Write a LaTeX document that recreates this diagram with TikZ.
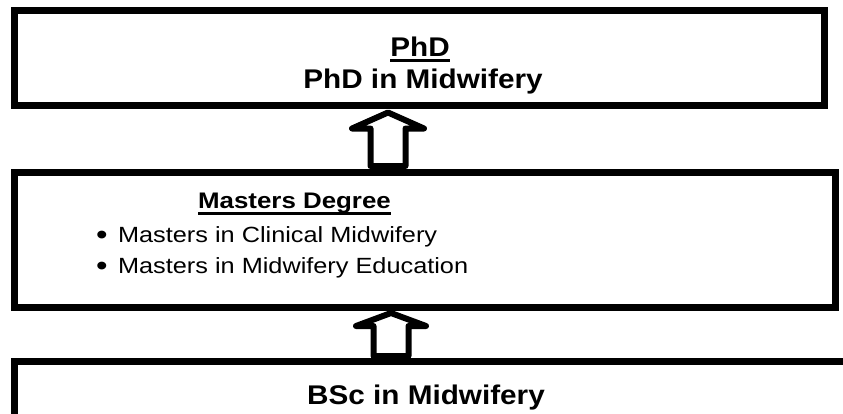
\documentclass[tikz,border=0pt]{standalone}
\usepackage{fontspec}
\setmainfont{Liberation Sans}
% thick underline drawn beneath a word group
\newcommand\ulined[1]{\setbox0\hbox{#1}\rlap{\vrule height -3pt depth 6pt width \wd0}\box0}
% slightly widened lettering
\newcommand\wider[1]{\scalebox{1.15}[1]{#1}}
\newcommand\headwide[1]{\scalebox{1.1}[1]{#1}}
% enlarged bullet followed by a fixed gap
\newcommand\itemdot{\raisebox{-2.4pt}{\scalebox{1.3}{•}}\hskip 9pt}
\tikzset{
  frame/.style={draw=black, line width=7pt, inner sep=0pt, outer sep=0pt},
  hollowup/.style={draw=black, fill=white, line width=6pt, line join=round},
  headtext/.style={inner sep=0pt, font=\fontsize{27}{31}\selectfont\bfseries},
  subhead/.style={inner sep=0pt, font=\fontsize{22.5}{26}\selectfont\bfseries},
  itemtext/.style={inner sep=0pt, anchor=base west, font=\fontsize{22}{26}\selectfont},
}
\begin{document}
\begin{tikzpicture}[x=1pt,y=-1pt]
\useasboundingbox (0,0) rectangle (843,413);
\clip (0,0) rectangle (843,413);

% the three levels
\node[frame, minimum width=810pt, minimum height=95pt] (phd) at (419.5,58) {};
\node[frame, minimum width=821pt, minimum height=134.5pt] (masters) at (424.5,239.75) {};
\node[frame, minimum width=855pt, minimum height=100pt] (bsc) at (442,411.5) {};

% labels
\node[headtext, anchor=base] (phdhead) at (420,56) {\headwide{\ulined{PhD}}};
\node[headtext, anchor=base] (phdname) at (423,88) {\headwide{PhD in Midwifery}};
\node[subhead, anchor=base] (msthead) at (294.5,208.5) {\wider{\ulined{Masters Degree}}};
\node[itemtext] (mst1) at (96,242) {\wider{\itemdot Masters in Clinical Midwifery}};
\node[itemtext] (mst2) at (96,273) {\wider{\itemdot Masters in Midwifery Education}};
\node[headtext, anchor=base] (bscname) at (426,404) {\headwide{BSc in Midwifery}};

% hollow up arrows between levels
\coordinate (uptipA) at (388,112.5);
\coordinate (uptipB) at (391,313);
\draw[hollowup] (uptipA) -- ++(36,16) -- ++(-18.5,0) -- ++(0,37.5)
  -- ++(-35,0) -- ++(0,-37.5) -- ++(-18.5,0) -- cycle;
\draw[hollowup] (uptipB) -- ++(35,13) -- ++(-17.5,0) -- ++(0,30)
  -- ++(-35,0) -- ++(0,-30) -- ++(-17.5,0) -- cycle;
\end{tikzpicture}
\end{document}
